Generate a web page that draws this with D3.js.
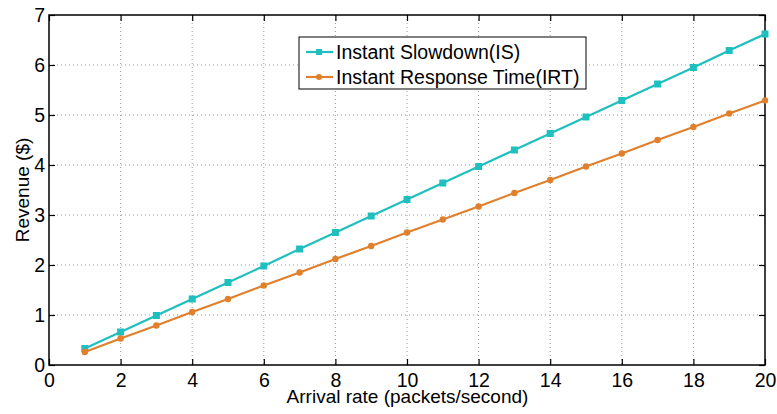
<!DOCTYPE html>
<html>
<head>
<meta charset="utf-8">
<script src="https://cdn.jsdelivr.net/npm/d3@7"></script>
<style>
  body { margin: 0; background: #fff; }
  text { font-family: "Liberation Sans", Arial, sans-serif; }
</style>
</head>
<body>
<div id="chart"></div>
<script>
// values
const arrivalRate = [1, 2, 3, 4, 5, 6, 7, 8, 9, 10, 11, 12, 13, 14, 15, 16, 17, 18, 19, 20];
const slowdownIS = [0.33, 0.66, 0.99, 1.32, 1.65, 1.98, 2.32, 2.65, 2.98, 3.31, 3.64, 3.97, 4.30, 4.63, 4.96, 5.29, 5.62, 5.95, 6.29, 6.62];
const responseIRT = [0.26, 0.53, 0.79, 1.06, 1.32, 1.59, 1.85, 2.12, 2.38, 2.65, 2.91, 3.17, 3.44, 3.70, 3.97, 4.23, 4.50, 4.76, 5.03, 5.29];
const xTicks = [0, 2, 4, 6, 8, 10, 12, 14, 16, 18, 20];
const yTicks = [0, 1, 2, 3, 4, 5, 6, 7];
const seriesNames = ["Instant Slowdown(IS)", "Instant Response Time(IRT)"];
const seriesColors = ["#1fbfbf", "#e0802c"];

let margin = {top: 15, right: 12, bottom: 49, left: 49},
    width = 777 - margin.left - margin.right,
    height = 414 - margin.top - margin.bottom;

let svg = d3.select("#chart")
    .append("svg")
    .attr("width", 777)
    .attr("height", 414)
    .append("g")
    .attr("transform", `translate(${margin.left}, ${margin.top})`);

let x = d3.scaleLinear().domain([0, 20]).range([0, width]);
let y = d3.scaleLinear().domain([0, 7]).range([height, 0]);

// grid
svg.append("g")
    .selectAll("line")
    .data(xTicks.slice(1, -1))
    .enter().append("line")
    .attr("x1", d => x(d)).attr("x2", d => x(d))
    .attr("y1", 0).attr("y2", height)
    .attr("stroke", "#999").attr("stroke-width", 1)
    .attr("stroke-dasharray", "1,3");
svg.append("g")
    .selectAll("line")
    .data(yTicks.slice(1, -1))
    .enter().append("line")
    .attr("x1", 0).attr("x2", width)
    .attr("y1", d => y(d)).attr("y2", d => y(d))
    .attr("stroke", "#999").attr("stroke-width", 1)
    .attr("stroke-dasharray", "1,3");

// axes with inward ticks
let fmt = d3.format("d");
let xAxis = svg.append("g")
    .attr("transform", "translate(0," + height + ")")
    .call(d3.axisBottom(x).tickValues(xTicks).tickSize(-6).tickFormat(fmt));
let xTop = svg.append("g")
    .call(d3.axisTop(x).tickValues(xTicks).tickSize(-6).tickFormat(""));
let yAxis = svg.append("g")
    .call(d3.axisLeft(y).tickValues(yTicks).tickSize(-6).tickPadding(4).tickFormat(fmt));
let yRight = svg.append("g")
    .attr("transform", "translate(" + width + ",0)")
    .call(d3.axisRight(y).tickValues(yTicks).tickSize(-6).tickFormat(""));

[xAxis, xTop, yAxis, yRight].forEach(g => {
    g.select(".domain").remove();
    g.selectAll(".tick line").attr("stroke", "#000").attr("stroke-width", 1.2);
    g.selectAll("text").attr("fill", "#000").style("font-size", "19.5px");
});
xAxis.selectAll("text").attr("y", 22).attr("dy", 0);

svg.append("rect")
    .attr("x", 0).attr("y", 0)
    .attr("width", width).attr("height", height)
    .attr("fill", "none").attr("stroke", "#000").attr("stroke-width", 1.5);

// lines
let line = d3.line()
    .x((d, i) => x(arrivalRate[i]))
    .y(d => y(d));

svg.append("path")
    .datum(slowdownIS)
    .attr("fill", "none")
    .attr("stroke", seriesColors[0])
    .attr("stroke-width", 2.2)
    .attr("d", line);
svg.append("g")
    .selectAll("rect")
    .data(slowdownIS)
    .enter().append("rect")
    .attr("x", (d, i) => x(arrivalRate[i]) - 3.5)
    .attr("y", d => y(d) - 3.5)
    .attr("width", 7).attr("height", 7)
    .attr("fill", seriesColors[0]);

svg.append("path")
    .datum(responseIRT)
    .attr("fill", "none")
    .attr("stroke", seriesColors[1])
    .attr("stroke-width", 2.2)
    .attr("d", line);
svg.append("g")
    .selectAll("circle")
    .data(responseIRT)
    .enter().append("circle")
    .attr("cx", (d, i) => x(arrivalRate[i]))
    .attr("cy", d => y(d))
    .attr("r", 3.2)
    .attr("fill", seriesColors[1]);

// legend
let legend = svg.append("g").attr("transform", "translate(250, 22)");
legend.append("rect")
    .attr("width", 287).attr("height", 52)
    .attr("fill", "#fff").attr("stroke", "#000").attr("stroke-width", 1);
seriesNames.forEach((name, i) => {
    let ly = 15 + i * 25;
    legend.append("line")
        .attr("x1", 7).attr("x2", 34).attr("y1", ly).attr("y2", ly)
        .attr("stroke", seriesColors[i]).attr("stroke-width", 2.2);
    if (i === 0) {
        legend.append("rect").attr("x", 17).attr("y", ly - 3).attr("width", 6).attr("height", 6)
            .attr("fill", seriesColors[i]);
    } else {
        legend.append("circle").attr("cx", 20).attr("cy", ly).attr("r", 3)
            .attr("fill", seriesColors[i]);
    }
    legend.append("text")
        .attr("x", 37).attr("y", ly).attr("dy", "0.35em")
        .style("font-size", "19.5px")
        .text(name);
});

// axis labels
svg.append("text")
    .attr("x", width / 2 + 0.5).attr("y", height + 38)
    .attr("text-anchor", "middle")
    .style("font-size", "19px")
    .text("Arrival rate (packets/second)");
svg.append("text")
    .attr("transform", `translate(${-20}, ${height / 2}) rotate(-90)`)
    .attr("text-anchor", "middle")
    .style("font-size", "19px")
    .text("Revenue ($)");
</script>
</body>
</html>
